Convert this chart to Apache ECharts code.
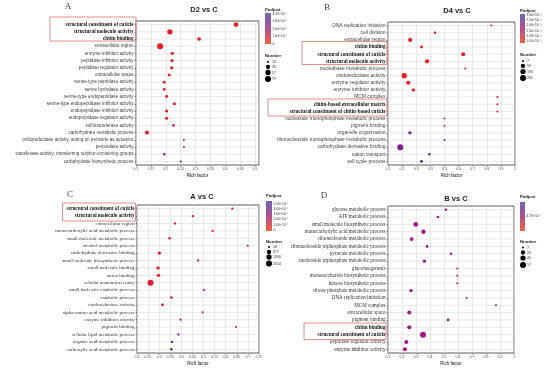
<!DOCTYPE html>
<html><head><meta charset="utf-8">
<script src="https://cdn.jsdelivr.net/npm/echarts@6/dist/echarts.min.js"></script>
<style>html,body{margin:0;padding:0;background:#fff}#c{width:550px;height:368px}</style>
</head><body><div id="c"></div>
<script>
// ---------------- DATA ----------------
const titleA = 'D2 vs C', titleB = 'D4 vs C', titleC = 'A vs C', titleD = 'B vs C';

const catsA = ['structural constituent of cuticle','structural molecule activity','chitin binding','extracellular region','enzyme inhibitor activity','peptidase inhibitor activity','peptidase regulator activity','extracellular space','serine-type peptidase activity','serine hydrolase activity','serine-type endopeptidase activity','serine-type endopeptidase inhibitor activity','endopeptidase inhibitor activity','endopeptidase regulator activity','sulfotransferase activity','carbohydrate metabolic process','oxidoreductase activity, acting on peroxide as acceptor','peroxidase activity','transferase activity, transferring sulphur-containing groups','carbohydrate biosynthetic process'];
const richA = [0.436,0.214,0.312,0.181,0.222,0.221,0.220,0.212,0.195,0.195,0.203,0.229,0.203,0.203,0.226,0.137,0.261,0.261,0.195,0.251];
const numA = [43,58,25,79,20,20,20,17,16,16,17,18,18,18,15,30,13,13,14,13];
const padjA = [2e-7,3e-7,6e-7,1e-7,1.2e-6,1.2e-6,1.2e-6,1.5e-6,2e-6,2e-6,2e-6,2e-6,2.2e-6,2.2e-6,5e-6,1e-6,9e-6,9e-6,2.3e-5,3.9e-5];
const boldA = ['structural constituent of cuticle','structural molecule activity','chitin binding'];
const padjTicksA = ['4.00×10⁻⁵','3.00×10⁻⁵','2.00×10⁻⁵','1.00×10⁻⁵','0'];
const padjTickValsA = [4e-5,3e-5,2e-5,1e-5,0];
const numBreaksA = [13,35,57,79];

const catsB = ['DNA replication initiation','cell division','extracellular region','chitin binding','structural constituent of cuticle','structural molecule activity','nucleobase metabolic process','oxidoreductase activity','enzyme regulator activity','enzyme inhibitor activity','MCM complex','chitin-based extracellular matrix','structural constituent of chitin-based cuticle','nucleoside monophosphate metabolic process','pigment binding','organelle organization','ribonucleoside monophosphate metabolic process','carbohydrate derivative binding','cation transport','cell cycle process'];
const richB = [0.832,0.433,0.257,0.337,0.633,0.377,0.647,0.215,0.243,0.280,0.875,0.875,0.875,0.500,0.500,0.255,0.500,0.187,0.393,0.337];
const numB = [7,9,77,24,77,99,7,196,77,36,7,7,7,7,7,36,7,285,9,16];
const padjB = [3.5e-12,3.6e-12,3.4e-12,3.5e-12,3.4e-12,3.4e-12,3.8e-12,3.3e-12,3.4e-12,3.5e-12,7e-12,7e-12,7e-12,7.5e-12,7.5e-12,2.2e-11,2.6e-11,2.1e-11,2.9e-11,3e-11];
const boldB = ['chitin binding','structural constituent of cuticle','structural molecule activity','chitin-based extracellular matrix','structural constituent of chitin-based cuticle'];
const padjTicksB = ['3.00×10⁻¹¹','2.50×10⁻¹¹','2.00×10⁻¹¹','1.50×10⁻¹¹','1.00×10⁻¹¹','5.00×10⁻¹²'];
const padjTickValsB = [3e-11,2.5e-11,2e-11,1.5e-11,1e-11,5e-12];
const numBreaksB = [7,99,190,285];

const catsC = ['structural constituent of cuticle','structural molecule activity','extracellular region','monocarboxylic acid metabolic process','small molecule metabolic process','alcohol metabolic process','carbohydrate derivative binding','small molecule biosynthetic process','small molecule binding','anion binding','cellular anatomical entity','small molecule catabolic process','catabolic process','oxidoreductase activity','alpha-amino acid metabolic process','enzyme inhibitor activity','pigment binding','cellular lipid metabolic process','organic acid metabolic process','carboxylic acid metabolic process'];
const richC = [0.630,0.452,0.371,0.541,0.347,0.699,0.301,0.475,0.295,0.297,0.261,0.501,0.355,0.315,0.496,0.396,0.646,0.387,0.358,0.355];
const numC = [30,35,30,28,40,20,229,30,240,229,2014,22,78,78,25,22,18,26,40,40];
const padjC = [1e-6,2e-6,5e-6,8e-6,1e-5,1.2e-5,1.5e-5,1.8e-5,2e-5,2e-5,2.5e-5,6e-5,7e-5,8e-5,9e-5,2.7e-4,2.9e-4,3.1e-4,4.7e-4,5e-4];
const boldC = ['structural constituent of cuticle','structural molecule activity'];
const padjTicksC = ['5.00×10⁻⁴','4.00×10⁻⁴','3.00×10⁻⁴','2.00×10⁻⁴','1.00×10⁻⁴','0'];
const padjTickValsC = [5e-4,4e-4,3e-4,2e-4,1e-4,0];
const numBreaksC = [18,677,1336,2014];

const catsD = ['glucose metabolic process','ATP metabolic process','small molecule biosynthetic process','monocarboxylic acid metabolic process','ribonucleotide metabolic process','ribonucleoside triphosphate metabolic process','pyruvate metabolic process','nucleoside triphosphate metabolic process','gluconeogenesis','monosaccharide biosynthetic process','hexose biosynthetic process','ribose phosphate metabolic process','DNA replication initiation','MCM complex','extracellular space','pigment binding','chitin binding','structural constituent of cuticle','peptidase regulator activity','enzyme inhibitor activity'];
const richD = [0.514,0.457,0.298,0.353,0.269,0.379,0.550,0.360,0.595,0.595,0.595,0.264,0.662,0.871,0.252,0.529,0.252,0.350,0.231,0.221];
const numD = [8,8,30,24,16,9,8,12,7,7,7,12,7,7,20,9,20,57,20,20];
const padjD = [4.74e-4,4.74e-4,4.74e-4,4.74e-4,4.74e-4,4.74e-4,4.74e-4,4.74e-4,4.74e-4,4.74e-4,4.74e-4,4.74e-4,4.74e-4,4.74e-4,4.74e-4,4.74e-4,4.74e-4,4.74e-4,4.74e-4,4.74e-4];
const boldD = ['chitin binding','structural constituent of cuticle'];
const padjTicksD = ['4.74×10⁻⁴'];
const padjTickValsD = [4.74e-4];
const numBreaksD = [7,24,40,57];

// ---------------- LAYOUT / STYLE ----------------
const PT_COLORS = ['#ec1c24','#a3168a','#2b2b9e'];
const BAR_COLORS = ['#6c66b8','#b0508f','#f2643c']; // top -> bottom
const SANS = 'Liberation Sans, Arial, sans-serif';
const SERIF = 'Liberation Serif, Times New Roman, serif';
const GRID_LINE = '#d9d9d9';

const panels = [
  {letter:'A', title:titleA, cats:catsA, rich:richA, num:numA, padj:padjA, bold:boldA, ticks:padjTicksA, tickVals:padjTickValsA, breaks:numBreaksA,
   grid:{left:136, top:21, width:123, height:144}, x:{min:0.1, max:0.5134, interval:0.05, showMax:false},
   labelFont:SANS, labelSize:4.6, labelColor:'#444', vm:[-0.05e-5, 4.1e-5],
   letterPos:[68,7], titlePos:[204,10],
   leg:{x:265, tY:10, barY:13, barH:31, barW:6, numY:56, dots:[62,67,72.5,79]},
   boxes:[[50,17,86,24]]},
  {letter:'B', title:titleB, cats:catsB, rich:richB, num:numB, padj:padjB, bold:boldB, ticks:padjTicksB, tickVals:padjTickValsB, breaks:numBreaksB,
   grid:{left:388, top:22, width:127, height:143}, x:{min:0.1, max:1.0, interval:0.1, showMax:true},
   labelFont:SANS, labelSize:4.9, labelColor:'#444', vm:[3.2e-12, 3.1e-11],
   letterPos:[327,8], titlePos:[457,11],
   leg:{x:520, tY:11, barY:14, barH:29, barW:5, numY:55, dots:[61,66,71.5,78]},
   boxes:[[302,41.5,85,23],[268,99,119,17]]},
  {letter:'C', title:titleC, cats:catsC, rich:richC, num:numC, padj:padjC, bold:boldC, ticks:padjTicksC, tickVals:padjTickValsC, breaks:numBreaksC,
   grid:{left:137, top:205, width:122, height:148}, x:{min:0.2, max:0.75, interval:0.05, showMax:true},
   labelFont:SERIF, labelSize:5, labelColor:'#333', vm:[-0.2e-4, 5.5e-4],
   letterPos:[70,195], titlePos:[202,197],
   leg:{x:266, tY:196, barY:201, barH:30, barW:6, numY:241.5, dots:[247,252,257,263.5]},
   boxes:[[62.5,203,73,18]]},
  {letter:'D', title:titleD, cats:catsD, rich:richD, num:numD, padj:padjD, bold:boldD, ticks:padjTicksD, tickVals:padjTickValsD, breaks:numBreaksD,
   grid:{left:388, top:206, width:126, height:147}, x:{min:0.1, max:1.0, interval:0.1, showMax:true},
   labelFont:SERIF, labelSize:5.1, labelColor:'#333', vm:[4.64e-4, 4.84e-4],
   letterPos:[324,196], titlePos:[456,199],
   leg:{x:520, tY:197, barY:202, barH:29, barW:5, numY:242, dots:[247.5,252.5,258,265]},
   boxes:[[304,323,82,16.5]]}
];

const DMIN = 2, DMAX = 6;
function sizeOf(n, lo, hi){ const r = Math.max(0, Math.min(1, (n - lo) / (hi - lo))); return DMIN + (DMAX - DMIN) * Math.sqrt(r); }

const grids = [], xAxes = [], yAxes = [], series = [], visualMaps = [], graphics = [];

panels.forEach((p, i) => {
  const lo = Math.min(...p.breaks), hi = Math.max(...p.breaks);
  grids.push(Object.assign({show:true, borderColor:'#333', borderWidth:0.8, backgroundColor:'transparent', containLabel:false, outerBoundsMode:'none'}, p.grid));
  xAxes.push({type:'value', gridIndex:i, min:p.x.min, max:p.x.max, interval:p.x.interval,
    axisLine:{show:false}, axisTick:{show:true, length:1.5, lineStyle:{color:'#333', width:0.5}},
    axisLabel:{fontSize:3.6, color:'#4d4d4d', margin:2, showMaxLabel:p.x.showMax, showMinLabel:true, fontFamily:SANS},
    splitLine:{show:true, lineStyle:{color:GRID_LINE, width:0.6}},
    name:'Rich factor', nameLocation:'middle', nameGap:8, nameTextStyle:{fontSize:4.5, color:'#111', fontFamily:SANS}});
  yAxes.push({type:'category', gridIndex:i, data:p.cats, inverse:true,
    axisLine:{show:false}, axisTick:{show:true, length:1.5, alignWithLabel:true, lineStyle:{color:'#333', width:0.5}},
    splitLine:{show:false},
    axisLabel:{interval:0, margin:2.5,
      formatter: v => (p.bold.indexOf(v) >= 0 ? '{b|' + v + '}' : '{n|' + v + '}'),
      rich:{
        n:{fontFamily:p.labelFont, fontSize:p.labelSize, color:p.labelColor},
        b:{fontFamily:SERIF, fontWeight:'bold', fontSize:5.1, color:'#111'}
      }}});
  const pts = p.cats.map((c, j) => [p.rich[j], c, p.padj[j], p.num[j]]);
  // horizontal grid lines through each category: a line series per category spanning the x range
  p.cats.forEach(c => {
    series.push({type:'line', xAxisIndex:i, yAxisIndex:i, data:[[p.x.min, c],[p.x.max, c]],
      symbol:'none', silent:true, z:1, lineStyle:{color:GRID_LINE, width:0.6}});
  });
  // points
  series.push({type:'scatter', xAxisIndex:i, yAxisIndex:i, z:5, id:'pts'+i,
    data:pts,
    symbolSize: v => sizeOf(v[3], lo, hi),
    itemStyle:{opacity:1}});
  visualMaps.push({type:'continuous', show:false, seriesIndex:[series.length-1], dimension:2, min:p.vm[0], max:p.vm[1], inRange:{color:PT_COLORS}});

  // panel letter and title
  graphics.push({type:'text', x:p.letterPos[0], y:p.letterPos[1], silent:true,
    style:{text:p.letter, fontFamily:SERIF, fontSize:9, fill:'#444', align:'center', verticalAlign:'middle'}});
  graphics.push({type:'text', x:p.titlePos[0], y:p.titlePos[1], silent:true,
    style:{text:p.title, fontFamily:SANS, fontWeight:'bold', fontSize:7.5, fill:'#222', align:'center', verticalAlign:'middle'}});
  // highlight boxes
  p.boxes.forEach(b => graphics.push({type:'rect', silent:true, shape:{x:b[0], y:b[1], width:b[2], height:b[3]},
    style:{fill:'none', stroke:'#e07070', lineWidth:0.8}, z:10}));

  // colour-bar legend
  const L = p.leg;
  graphics.push({type:'text', x:L.x, y:L.tY, silent:true,
    style:{text:'Padjust', fontFamily:SANS, fontWeight:'bold', fontSize:4.3, fill:'#222', align:'left', verticalAlign:'middle'}});
  graphics.push({type:'rect', silent:true, shape:{x:L.x, y:L.barY, width:L.barW, height:L.barH},
    style:{fill:new echarts.graphic.LinearGradient(0,0,0,1,[{offset:0,color:BAR_COLORS[0]},{offset:0.5,color:BAR_COLORS[1]},{offset:1,color:BAR_COLORS[2]}])}});
  p.ticks.forEach((t, k) => {
    const v = p.tickVals[k];
    const y = L.barY + L.barH * (1 - (v - p.vm[0]) / (p.vm[1] - p.vm[0]));
    graphics.push({type:'text', x:L.x + L.barW + 1.5, y:y, silent:true,
      style:{text:t, fontFamily:SANS, fontSize:3.4, fill:'#333', align:'left', verticalAlign:'middle'}});
  });
  // size legend
  graphics.push({type:'text', x:L.x, y:L.numY, silent:true,
    style:{text:'Number', fontFamily:SANS, fontWeight:'bold', fontSize:4.3, fill:'#222', align:'left', verticalAlign:'middle'}});
  p.breaks.forEach((b, k) => {
    const d = sizeOf(b, lo, hi);
    graphics.push({type:'circle', silent:true, shape:{cx:L.x + 3, cy:L.dots[k], r:d/2}, style:{fill:'#000'}});
    graphics.push({type:'text', x:L.x + 7, y:L.dots[k], silent:true,
      style:{text:String(b), fontFamily:SANS, fontSize:3.6, fill:'#333', align:'left', verticalAlign:'middle'}});
  });
});

const chart = echarts.init(document.getElementById('c'), null, {renderer:'canvas'});
chart.setOption({
  animation:false,
  backgroundColor:'#fff',
  grid:grids, xAxis:xAxes, yAxis:yAxes, series:series, visualMap:visualMaps,
  graphic:{elements:graphics}
});
</script>
</body></html>
